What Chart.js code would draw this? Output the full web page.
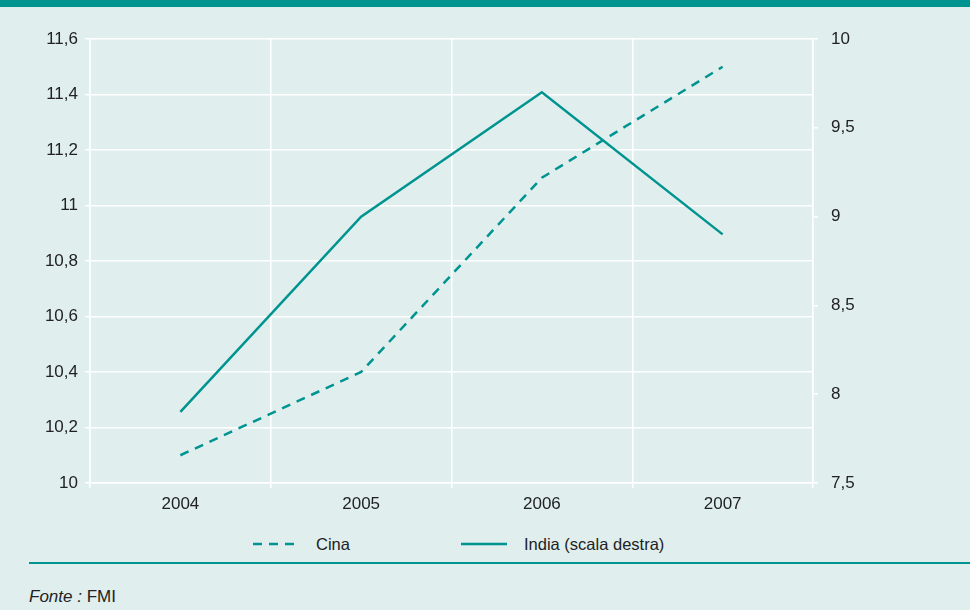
<!DOCTYPE html>
<html>
<head>
<meta charset="utf-8">
<script src="https://cdn.jsdelivr.net/npm/chart.js@4"></script>
<style>
  body { margin: 0; background: #e0eeee; font-family: "Liberation Sans", Arial, sans-serif; color: #222; }
  #wrap { position: relative; width: 970px; height: 610px; overflow: hidden; background: #e0eeee; }
  #topbar { position: absolute; left: 0; top: 0; width: 970px; height: 7px; background: #009490; }
  #chart { position: absolute; left: 0; top: 0; }
  .leg { position: absolute; top: 534px; font-size: 16.5px; line-height: 20px; display: flex; align-items: center; }
  .leg svg { display: block; }
  #rule { position: absolute; left: 29px; top: 562px; width: 941px; height: 2px; background: #009490; }
  #src { position: absolute; left: 29px; top: 587px; font-size: 17px; line-height: 20px; }
</style>
</head>
<body>
<div id="wrap">
  <canvas id="chart" width="970" height="520"></canvas>
  <div id="topbar"></div>
  <div class="leg" style="left:253px">
    <svg width="42" height="4"><line x1="0" y1="2" x2="42" y2="2" stroke="#009490" stroke-width="2.5" stroke-dasharray="9,7"/></svg>
    <span style="margin-left:21px">Cina</span>
  </div>
  <div class="leg" style="left:461px">
    <svg width="46" height="4"><line x1="0" y1="2" x2="46" y2="2" stroke="#009490" stroke-width="2.5"/></svg>
    <span style="margin-left:17px">India (scala destra)</span>
  </div>
  <div id="rule"></div>
  <div id="src"><i>Fonte :</i> FMI</div>
</div>
<script>
// dati
const anni = ["2004", "2005", "2006", "2007"];
const cina = [10.1, 10.4, 11.1, 11.5];
const india = [7.9, 9.0, 9.7, 8.9];

const teal = "#009490";
const fmt = v => String(Math.round(v * 10) / 10).replace(".", ",");
const tickFont = { size: 17, family: "Liberation Sans" };

const ctx = document.getElementById("chart").getContext("2d");
const chart = new Chart(ctx, {
  type: "line",
  data: {
    labels: anni,
    datasets: [{
      label: "Cina",
      data: cina,
      yAxisID: "y",
      borderColor: teal,
      borderWidth: 2.5,
      borderDash: [9, 7],
      pointRadius: 0,
      tension: 0
    }, {
      label: "India (scala destra)",
      data: india,
      yAxisID: "y1",
      borderColor: teal,
      borderWidth: 2.5,
      pointRadius: 0,
      tension: 0
    }]
  },
  options: {
    responsive: false,
    devicePixelRatio: 1,
    animation: false,
    layout: { padding: { top: 39, right: 0, left: 0, bottom: 0 } },
    plugins: { legend: { display: false }, tooltip: { enabled: false } },
    scales: {
      x: {
        offset: true,
        grid: { offset: true, color: "#ffffff", lineWidth: 1.5, tickLength: 5 },
        border: { color: "#ffffff", width: 1.5 },
        ticks: { color: "#222", font: tickFont, padding: 6 },
        afterFit: s => { s.height = 37; }
      },
      y: {
        position: "left",
        min: 10, max: 11.6,
        grid: { color: "#ffffff", lineWidth: 1.5, tickLength: 5 },
        border: { color: "#ffffff", width: 1.5 },
        ticks: { stepSize: 0.2, color: "#222", font: tickFont, padding: 7, callback: fmt },
        afterFit: s => { s.width = 90; }
      },
      y1: {
        position: "right",
        min: 7.5, max: 10,
        grid: { drawOnChartArea: false, color: "#ffffff", lineWidth: 1.5, tickLength: 5 },
        border: { color: "#ffffff", width: 1.5 },
        ticks: { stepSize: 0.5, color: "#222", font: tickFont, padding: 13, callback: fmt },
        afterFit: s => { s.width = 157; }
      }
    }
  }
});
</script>
</body>
</html>
